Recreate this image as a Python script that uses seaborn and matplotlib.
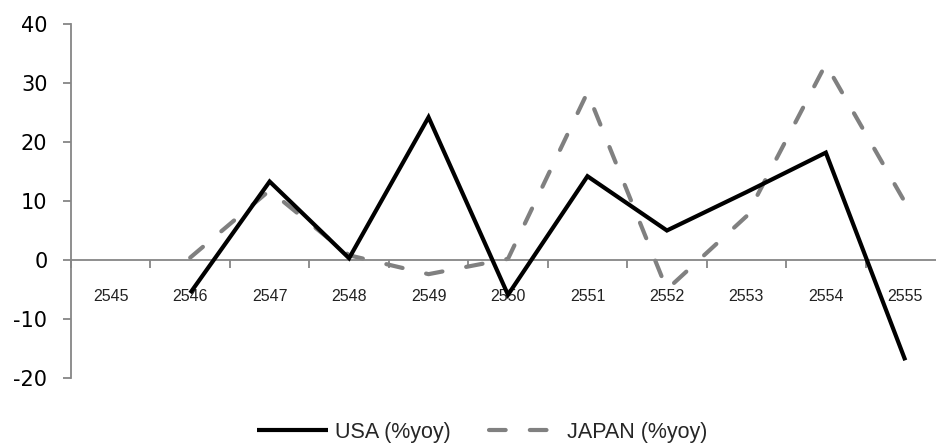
import numpy as np
import pandas as pd
import matplotlib
matplotlib.use("Agg")
import matplotlib.pyplot as plt
import seaborn as sns

years = [2545, 2546, 2547, 2548, 2549, 2550, 2551, 2552, 2553, 2554, 2555]
usa = [np.nan, -5.6, 13.3, 0.3, 24.2, -5.9, 14.2, 5.0, 11.5, 18.2, -17.0]
japan = [np.nan, 0.4, 11.8, 0.8, -2.4, 0.2, 28.4, -5.0, 7.4, 33.2, 9.7]
usa_label = "USA (%yoy)"
japan_label = "JAPAN (%yoy)"
yticks = [-20, -10, 0, 10, 20, 30, 40]

sns.set_style("white")
plt.rcParams['font.family'] = ['Liberation Sans', 'DejaVu Sans']

fig = plt.figure(figsize=(9.36, 4.48), dpi=100)
ax = fig.add_axes([71/936, 70/448, (945-71)/936, 354/448])

df = pd.DataFrame({"year": years, "usa": usa, "japan": japan})
axis_grey = "#868686"

sns.lineplot(data=df, x="year", y="usa", ax=ax, color="black", linewidth=3,
             label=usa_label, solid_joinstyle="miter", solid_capstyle="butt")
sns.lineplot(data=df, x="year", y="japan", ax=ax, color="#808080", linewidth=3,
             label=japan_label, dash_capstyle="round")
ax.lines[1].set_dashes((4.0, 5.8))
ax.lines[0].set_zorder(3)
ax.lines[1].set_zorder(2)

ax.set_xlim(years[0] - 0.5, years[-1] + 0.5)
ax.set_ylim(-20, 40)
ax.set_xlabel("")
ax.set_ylabel("")

# spines
for s in ["top", "right"]:
    ax.spines[s].set_visible(False)
ax.spines["bottom"].set_position(("data", 0))
ax.spines["bottom"].set_color(axis_grey)
ax.spines["left"].set_color(axis_grey)
ax.spines["bottom"].set_linewidth(1.3)
ax.spines["left"].set_linewidth(1.3)

# y ticks
ax.set_yticks(yticks)
ax.set_yticklabels([str(v) for v in yticks], fontsize=15, color="black",
                   family=["DejaVu Sans"])
ax.tick_params(axis="y", which="major", direction="out", length=6, width=1.3,
               color=axis_grey, pad=11, left=True)

# x ticks: boundaries as major ticks, labels at centres via minor ticks
bounds = [y - 0.5 for y in years] + [years[-1] + 0.5]
ax.set_xticks(bounds)
ax.set_xticklabels([""] * len(bounds))
ax.set_xticks(years, minor=True)
ax.set_xticklabels([str(y) for y in years], minor=True, fontsize=11.5,
                   color="#222222")
ax.tick_params(axis="x", which="major", direction="out", length=6, width=1.3,
               color=axis_grey, bottom=True)
ax.tick_params(axis="x", which="minor", length=0, pad=21, bottom=True)

ax.grid(False)
if ax.legend_:
    ax.legend_.remove()

handles, labels = ax.get_legend_handles_labels()
leg = fig.legend(handles, labels, loc="center", bbox_to_anchor=(482/936, 1 - 432/448),
                 ncol=2, frameon=False, fontsize=15.5, handlelength=3.3,
                 columnspacing=1.75, handletextpad=0.33)

fig.savefig("out.png", dpi=100)
